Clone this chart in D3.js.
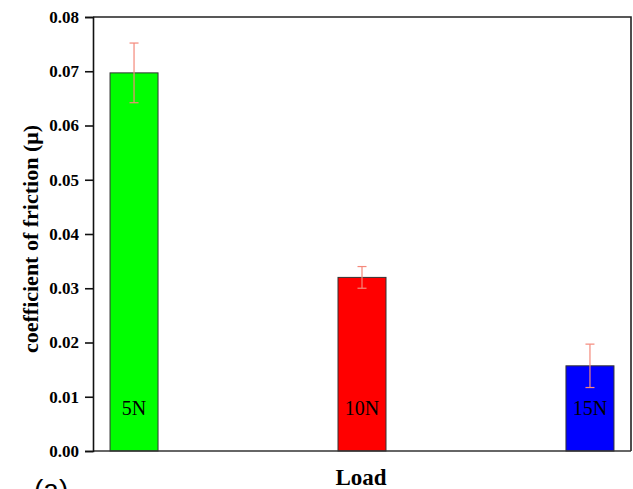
<html>
<script src="https://d3js.org/d3.v7.min.js"></script>
<style>
  body { margin: 0; background: #fff; }
  text { font-family: "Liberation Serif", "Times New Roman", serif; }
</style>
<body>
<svg width="633" height="489"></svg>
<script>
// values
var loads = ["5N", "10N", "15N"];
var cof = [0.0697, 0.0320, 0.0157];
var cofErr = [0.0055, 0.0020, 0.0040];
var barColors = ["#00ff00", "#ff0000", "#0000ff"];
var yTicks = [0, 0.01, 0.02, 0.03, 0.04, 0.05, 0.06, 0.07, 0.08];

var svg = d3.select("svg"),
    plotL = 93, plotR = 631, plotT = 17, plotB = 451;

var x = d3.scalePoint().domain(loads).range([plotL, plotR]).padding(0.18);
var y = d3.scaleLinear().domain([0, 0.08]).range([plotB, plotT]);
var barW = 48;

var g = svg.append("g");

// bars
g.selectAll("rect.bar")
  .data(loads)
  .enter()
  .append("rect")
    .attr("class", "bar")
    .attr("x", function(d) { return x(d) - barW / 2; })
    .attr("y", function(d, i) { return y(cof[i]); })
    .attr("width", barW)
    .attr("height", function(d, i) { return plotB - y(cof[i]); })
    .attr("fill", function(d, i) { return barColors[i]; })
    .attr("stroke", "#333")
    .attr("stroke-width", 1);

// error bars
var err = g.selectAll("g.err").data(loads).enter().append("g")
  .attr("stroke", "#f4897b").attr("stroke-width", 1.2);
err.append("line")
  .attr("x1", function(d) { return x(d); })
  .attr("x2", function(d) { return x(d); })
  .attr("y1", function(d, i) { return y(cof[i] + cofErr[i]); })
  .attr("y2", function(d, i) { return y(cof[i] - cofErr[i]); });
[1, -1].forEach(function(s) {
  err.append("line")
    .attr("x1", function(d) { return x(d) - 4.5; })
    .attr("x2", function(d) { return x(d) + 4.5; })
    .attr("y1", function(d, i) { return y(cof[i] + s * cofErr[i]); })
    .attr("y2", function(d, i) { return y(cof[i] + s * cofErr[i]); });
});

// labels inside bars
g.selectAll("text.lbl")
  .data(loads)
  .enter()
  .append("text")
    .attr("x", function(d) { return x(d); })
    .attr("y", 415)
    .attr("text-anchor", "middle")
    .attr("font-size", 20)
    .text(function(d) { return d; });

// frame
svg.append("path")
  .attr("d", "M" + plotL + "," + plotT + "H" + plotR + "V" + plotB)
  .attr("fill", "none").attr("stroke", "#222").attr("stroke-width", 1.6);
svg.append("line")
  .attr("x1", plotL).attr("x2", plotR).attr("y1", plotB).attr("y2", plotB)
  .attr("stroke", "#333").attr("stroke-width", 1.6);

// y axis
var yAxis = svg.append("g")
  .attr("transform", "translate(" + plotL + ",0)")
  .call(d3.axisLeft(y).tickValues(yTicks).tickFormat(d3.format(".2f")).tickSize(8).tickPadding(6));
yAxis.select(".domain").attr("stroke", "#111").attr("stroke-width", 1.6);
yAxis.selectAll(".tick line").attr("stroke", "#111").attr("stroke-width", 1.6);
yAxis.selectAll(".tick text")
  .attr("font-family", "Liberation Serif, Times New Roman, serif")
  .attr("font-size", 17).attr("font-weight", "bold").attr("fill", "#000");

// axis titles
svg.append("text")
  .attr("transform", "translate(38,239) rotate(-90)")
  .attr("text-anchor", "middle")
  .attr("font-size", 22).attr("font-weight", "bold")
  .text("coefficient of friction (\u03bc)");
svg.append("text")
  .attr("x", 361).attr("y", 485)
  .attr("text-anchor", "middle")
  .attr("font-size", 23).attr("font-weight", "bold")
  .text("Load");

// panel label, cut by the bottom edge
svg.append("text")
  .attr("x", 34).attr("y", 499)
  .style("font-family", "Liberation Sans, Arial, sans-serif")
  .attr("font-size", 28)
  .text("(a)");
</script>
</body>
</html>
